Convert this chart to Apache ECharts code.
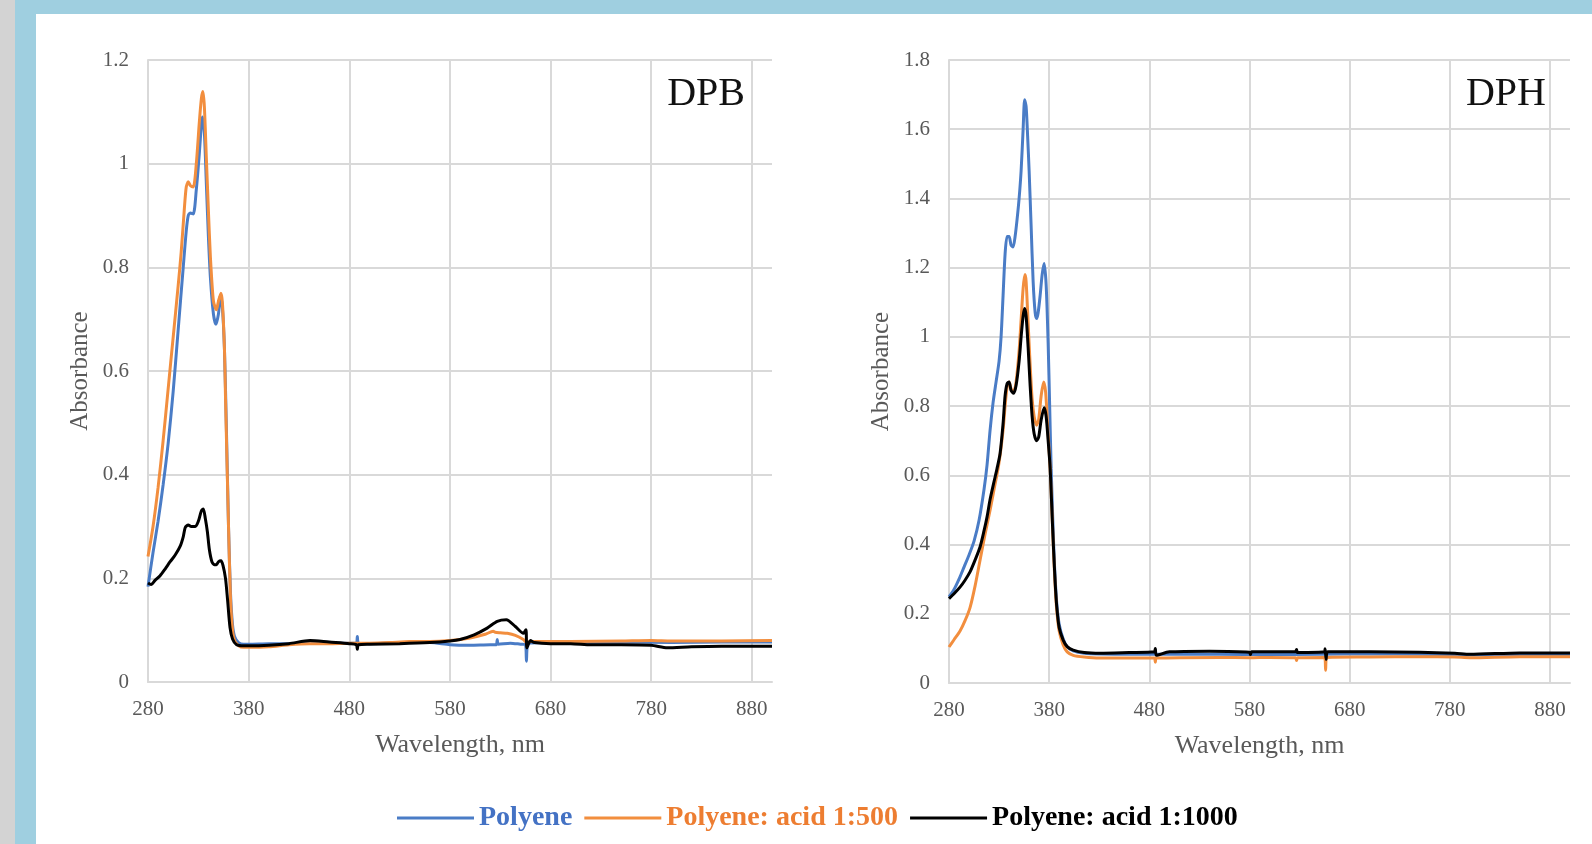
<!DOCTYPE html>
<html>
<head>
<meta charset="utf-8">
<script src="https://cdn.jsdelivr.net/npm/echarts@6/dist/echarts.min.js"></script>
<style>
  html, body { margin: 0; padding: 0; width: 1592px; height: 844px; background: #ffffff; overflow: hidden; }
  #grayStrip { position: absolute; left: 0; top: 0; width: 15px; height: 844px; background: #d3d3d3; }
  #blueLeft { position: absolute; left: 15px; top: 0; width: 21px; height: 844px; background: #9fcfe0; }
  #blueTop { position: absolute; left: 15px; top: 0; width: 1577px; height: 14px; background: #9fcfe0; }
  #chart { position: absolute; left: 0; top: 0; width: 1592px; height: 844px; }
</style>
</head>
<body>
<div id="grayStrip"></div>
<div id="blueLeft"></div>
<div id="blueTop"></div>
<div id="chart"></div>
<script>
// ---------- Series names ----------
const seriesNames = ['Polyene', 'Polyene: acid 1:500', 'Polyene: acid 1:1000'];
const panelTitles = ['DPB', 'DPH'];

// ---------- DPB (left panel) ----------
const dpbPolyeneNm = [280,285,290,295,300,305,310,315,318,320,322,325,328,331,333,334,336,338,340,342,345,347.5,350,352,354,356,358,360,362,364,366,370,375,380,400,420,440,460,480,487,488,489,500,520,540,560,580,600,620,626,627,628,640,650,655,656,657,660,680,700,750,800,850,900];
const dpbPolyeneAbs = [0.184,0.25,0.31,0.38,0.46,0.56,0.68,0.80,0.87,0.90,0.905,0.903,0.95,1.02,1.075,1.09,1.06,0.96,0.86,0.78,0.71,0.69,0.71,0.745,0.72,0.64,0.48,0.30,0.17,0.11,0.088,0.076,0.073,0.073,0.074,0.074,0.076,0.075,0.075,0.075,0.088,0.075,0.074,0.075,0.076,0.076,0.072,0.071,0.072,0.072,0.082,0.073,0.075,0.073,0.072,0.040,0.072,0.075,0.076,0.076,0.077,0.076,0.077,0.077];

const dpbAcid500Nm = [280,285,290,295,300,305,310,313,316,318,320,322,325,328,331,333,334.5,336,338,340,342,345,348,350,352.5,354,356,357,360,362,364,366,370,375,380,400,420,440,460,480,500,520,540,560,580,600,615,623,625,630,637,645,653,656,660,680,700,750,780,800,850,900];
const dpbAcid500Abs = [0.242,0.30,0.375,0.465,0.565,0.665,0.765,0.83,0.91,0.955,0.965,0.958,0.955,1.0,1.08,1.125,1.139,1.11,1.01,0.91,0.82,0.735,0.718,0.735,0.75,0.73,0.64,0.55,0.30,0.16,0.10,0.08,0.07,0.067,0.067,0.068,0.072,0.074,0.074,0.075,0.075,0.076,0.078,0.078,0.080,0.085,0.092,0.098,0.096,0.095,0.094,0.090,0.082,0.076,0.078,0.078,0.078,0.079,0.080,0.079,0.079,0.080];

const dpbAcid1000Nm = [280,283,287,292,297,302,307,312,315,317,320,323,327,330,333,335,337,339,341,343.5,346,348,350,352.5,354.5,357,359,361.5,364,368,375,380,400,420,441,460,480,487,488,489,500,530,560,580,590,604,617,627,636,645,653,655.5,656.5,660,664,680,700,720,750,780,796,820,850,900];
const dpbAcid1000Abs = [0.191,0.188,0.196,0.205,0.218,0.232,0.245,0.262,0.28,0.298,0.303,0.300,0.300,0.31,0.33,0.334,0.315,0.29,0.255,0.232,0.226,0.226,0.232,0.234,0.225,0.20,0.16,0.105,0.083,0.072,0.070,0.070,0.071,0.074,0.080,0.077,0.074,0.072,0.063,0.072,0.073,0.074,0.076,0.079,0.082,0.091,0.104,0.117,0.120,0.107,0.094,0.101,0.066,0.080,0.076,0.074,0.074,0.072,0.072,0.071,0.066,0.068,0.069,0.069];

// ---------- DPH (right panel) ----------
const dphPolyeneNm = [280,285,290,295,300,305,310,315,318,321,324,327,330,332,334,336,338,340,342,344,346,348,350,352,354,355.5,357,358.5,360,362,364,366,367.5,369,371,373,375,377,379,380.5,382,384,385.5,387.6,390,394,398,404,415,430,460,500,550,600,650,700,750,800,850,900];
const dphPolyeneAbs = [0.249,0.27,0.30,0.335,0.37,0.41,0.47,0.56,0.63,0.73,0.81,0.87,0.93,1.00,1.12,1.24,1.29,1.29,1.265,1.26,1.29,1.34,1.40,1.48,1.60,1.685,1.665,1.58,1.48,1.32,1.16,1.07,1.053,1.07,1.12,1.18,1.212,1.15,0.98,0.80,0.62,0.44,0.33,0.23,0.17,0.127,0.105,0.093,0.086,0.084,0.083,0.083,0.083,0.082,0.083,0.084,0.083,0.081,0.082,0.082];

const dphAcid500Nm = [280,285,291,296,301,306,311,316,321,325,329.3,332,334.3,336,338,340,342,344.5,347,350,352,354,355.8,357,359,361,363,365,367.5,369.5,372,374.5,376.5,378.5,381,383,384.5,386,387.6,390,394,398,404,415,430,485,486,487,550,580,600,626,627,628,655,656,657,700,750,785,800,850,900];
const dphAcid500Abs = [0.104,0.125,0.150,0.18,0.218,0.28,0.355,0.43,0.499,0.56,0.625,0.68,0.74,0.80,0.855,0.87,0.85,0.84,0.87,0.96,1.05,1.14,1.18,1.16,1.04,0.92,0.82,0.77,0.745,0.76,0.83,0.87,0.84,0.74,0.62,0.48,0.37,0.28,0.21,0.15,0.11,0.09,0.08,0.075,0.072,0.072,0.06,0.072,0.074,0.073,0.074,0.073,0.065,0.073,0.074,0.037,0.074,0.075,0.076,0.075,0.073,0.076,0.076];

const dphAcid1000Nm = [280,285,291,296,301,306,311,315,318,321,324.5,328,331,334,336,338,340,342,344.5,347,350,352,354,355.5,357,359,361,363,365,367.5,369.5,372,375,377,379,381,383,384.5,386,387.6,390,394,398,404,415,431,460,485,486,487,500,540,580,581,582,626,627,628,655,655.5,656.5,658,700,750,785,800,850,900];
const dphAcid1000Abs = [0.244,0.258,0.277,0.297,0.321,0.355,0.393,0.44,0.48,0.53,0.576,0.62,0.663,0.75,0.83,0.865,0.87,0.845,0.837,0.86,0.93,1.0,1.06,1.082,1.06,0.97,0.86,0.77,0.72,0.70,0.71,0.76,0.795,0.77,0.70,0.62,0.48,0.38,0.29,0.22,0.16,0.124,0.105,0.095,0.088,0.086,0.088,0.09,0.10,0.08,0.09,0.092,0.089,0.082,0.09,0.09,0.097,0.088,0.09,0.099,0.068,0.09,0.09,0.089,0.086,0.083,0.087,0.087];

// ---------- Axis settings ----------
const xTickMin = 280, xTickMax = 900, xTickStep = 100;
const yMaxDPB = 1.2, yMaxDPH = 1.8, yStep = 0.2;

const seriesColors = ['#4a7cc6', '#f28e3e', '#000000'];
const legendTextColors = ['#4472c4', '#ed7d31', '#000000'];

function pairs(xs, ys) { return xs.map((x, i) => [x, ys[i]]); }

const serif = '"Liberation Serif", "DejaVu Serif", serif';
const gridColor = '#d9d9d9';
const labelColor = '#595959';

function xAxisDef(gridIndex) {
  return {
    type: 'value', gridIndex: gridIndex,
    min: xTickMin, max: xTickMax, interval: xTickStep,
    name: 'Wavelength, nm', nameLocation: 'middle', nameGap: 50,
    nameTextStyle: { fontFamily: serif, fontSize: 26, color: labelColor },
    axisLine: { show: true, lineStyle: { color: gridColor, width: 2 } },
    axisTick: { show: false },
    axisLabel: { fontFamily: serif, fontSize: 21, color: labelColor, margin: 17, showMaxLabel: false },
    splitLine: { show: true, showMaxLine: false, lineStyle: { color: gridColor, width: 2 } }
  };
}
function yAxisDef(gridIndex, yMax) {
  return {
    type: 'value', gridIndex: gridIndex,
    min: 0, max: yMax, interval: yStep,
    name: 'Absorbance', nameLocation: 'middle', nameGap: 55, nameRotate: 90,
    nameTextStyle: { fontFamily: serif, fontSize: 25, color: labelColor },
    axisLine: { show: true, lineStyle: { color: gridColor, width: 2 } },
    axisTick: { show: false },
    axisLabel: { fontFamily: serif, fontSize: 21, color: labelColor, margin: 19,
      formatter: v => String(Math.round(v * 10) / 10) },
    splitLine: { show: true, lineStyle: { color: gridColor, width: 2 } }
  };
}
function lineSeries(name, idx, axisIdx, xs, ys, w) {
  return {
    name: name, type: 'line', xAxisIndex: axisIdx, yAxisIndex: axisIdx,
    data: pairs(xs, ys), showSymbol: false, symbol: 'none', smooth: 0.25,
    lineStyle: { color: seriesColors[idx], width: w }, itemStyle: { color: seriesColors[idx] },
    emphasis: { disabled: true }, animation: false, z: 2 + idx
  };
}

const chart = echarts.init(document.getElementById('chart'), null, { renderer: 'canvas' });
chart.setOption({
  backgroundColor: 'transparent',
  animation: false,
  title: [
    { text: panelTitles[0], right: 847, top: 74, padding: 0,
      textStyle: { fontFamily: serif, fontSize: 40, fontWeight: 'normal', color: '#111111' } },
    { text: panelTitles[1], right: 46, top: 74, padding: 0,
      textStyle: { fontFamily: serif, fontSize: 40, fontWeight: 'normal', color: '#111111' } }
  ],
  grid: [
    { left: 148, top: 60, width: 624, height: 622 },
    { left: 949, top: 60, width: 621, height: 623 }
  ],
  xAxis: [xAxisDef(0), xAxisDef(1)],
  yAxis: [yAxisDef(0, yMaxDPB), yAxisDef(1, yMaxDPH)],
  legend: {
    left: 397, top: 804, padding: 0,
    icon: 'rect', itemWidth: 77, itemHeight: 3, itemGap: 12,
    selectedMode: false,
    textStyle: { fontFamily: serif, fontSize: 28, fontWeight: 'bold' },
    data: seriesNames.map((n, i) => ({ name: n, itemStyle: { color: seriesColors[i] },
      textStyle: { color: legendTextColors[i], fontFamily: serif, fontSize: 28, fontWeight: 'bold' } }))
  },
  series: [
    lineSeries(seriesNames[0], 0, 0, dpbPolyeneNm, dpbPolyeneAbs, 3),
    lineSeries(seriesNames[1], 1, 0, dpbAcid500Nm, dpbAcid500Abs, 3),
    lineSeries(seriesNames[2], 2, 0, dpbAcid1000Nm, dpbAcid1000Abs, 3),
    lineSeries(seriesNames[0], 0, 1, dphPolyeneNm, dphPolyeneAbs, 3),
    lineSeries(seriesNames[1], 1, 1, dphAcid500Nm, dphAcid500Abs, 3),
    lineSeries(seriesNames[2], 2, 1, dphAcid1000Nm, dphAcid1000Abs, 3)
  ]
});
</script>
</body>
</html>
